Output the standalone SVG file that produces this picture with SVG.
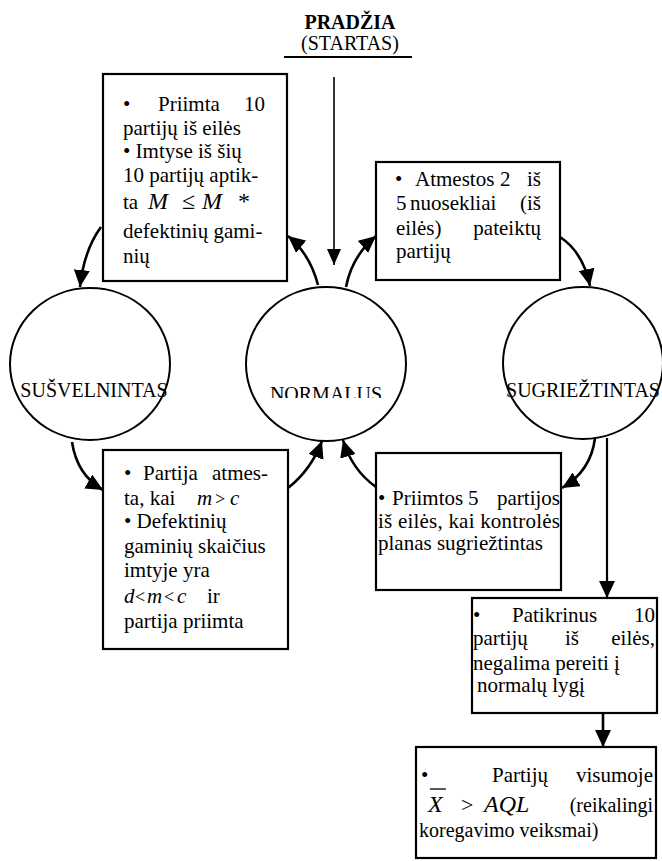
<svg xmlns="http://www.w3.org/2000/svg" width="662" height="861" viewBox="0 0 662 861">
<style>
text{font-family:"Liberation Serif","Times New Roman",serif;fill:#000}
.t{font-size:21px}
.c{font-size:20px}
.m{font-size:24px;font-style:italic}
.mi{font-size:21px;font-style:italic}
.box{fill:#fff;stroke:#000;stroke-width:2.2}
.ell{fill:#fff;stroke:#000;stroke-width:2}
.cv{fill:none;stroke:#000;stroke-width:2.6}
.ln{fill:none;stroke:#000}
</style>
<defs>
<marker id="ah" markerUnits="userSpaceOnUse" markerWidth="18" markerHeight="16" refX="17" refY="8" orient="auto">
<path d="M0,0 L17,8 L0,16 Z" fill="#000"/>
</marker>
<marker id="ahs" markerUnits="userSpaceOnUse" markerWidth="16" markerHeight="14" refX="16" refY="7" orient="auto">
<path d="M0,0 L16,7 L0,14 Z" fill="#000"/>
</marker>
<clipPath id="clipN"><rect x="240" y="370" width="170" height="28"/></clipPath>
</defs>

<g id="start">
<text x="350" y="29" text-anchor="middle" style="font-size:20px;font-weight:bold">PRADŽIA</text>
<text x="350" y="50" text-anchor="middle" style="font-size:20px">(STARTAS)</text>
<line x1="284" y1="57" x2="412" y2="57" stroke="#000" stroke-width="2"/>
</g>

<g id="box1">
<rect class="box" x="103" y="74" width="184" height="207"/>
<text class="t" y="111"><tspan x="123">•</tspan><tspan x="158">Priimta</tspan><tspan x="265" text-anchor="end">10</tspan></text>
<text class="t" x="123" y="135">partijų iš eilės</text>
<text class="t" x="123" y="158">• Imtyse iš šių</text>
<text class="t" x="123" y="182">10 partijų aptik-</text>
<text class="t" y="209"><tspan x="123">ta</tspan><tspan class="m" x="148">M</tspan><tspan x="182" style="font-size:24px">≤</tspan><tspan class="m" x="202">M</tspan><tspan x="238" style="font-size:24px">*</tspan></text>
<text class="t" x="123" y="238">defektinių gami-</text>
<text class="t" x="123" y="263">nių</text>
</g>

<g id="box2">
<rect class="box" x="376" y="162" width="184" height="118"/>
<text class="t" y="186"><tspan x="395">•</tspan><tspan x="415">Atmestos</tspan><tspan x="500">2</tspan><tspan x="541" text-anchor="end">iš</tspan></text>
<text class="t" y="210"><tspan x="396">5</tspan><tspan x="410">nuosekliai</tspan><tspan x="541" text-anchor="end">(iš</tspan></text>
<text class="t" y="235"><tspan x="396">eilės)</tspan><tspan x="541" text-anchor="end">pateiktų</tspan></text>
<text class="t" x="396" y="258">partijų</text>
</g>

<g id="susvelnintas">
<ellipse class="ell" cx="90" cy="364" rx="80" ry="76"/>
<text class="c" x="94" y="397" text-anchor="middle">SUŠVELNINTAS</text>
</g>

<g id="normalus">
<ellipse class="ell" cx="326" cy="364" rx="80" ry="77"/>
<text class="c" x="326" y="401" text-anchor="middle" clip-path="url(#clipN)">NORMALUS</text>
</g>

<g id="sugrieztintas">
<ellipse class="ell" cx="583" cy="363" rx="80" ry="76"/>
<text class="c" x="583" y="397" text-anchor="middle">SUGRIEŽTINTAS</text>
</g>

<g id="box3">
<rect class="box" x="103" y="450" width="185" height="199"/>
<text class="t" y="480"><tspan x="124">•</tspan><tspan x="143">Partija</tspan><tspan x="268" text-anchor="end">atmes-</tspan></text>
<text class="t" y="505"><tspan x="124">ta, kai</tspan><tspan class="mi" x="197">m</tspan><tspan x="215" style="font-size:18px">&gt;</tspan><tspan class="mi" x="230">c</tspan></text>
<text class="t" x="124" y="528">• Defektinių</text>
<text class="t" x="124" y="553">gaminių skaičius</text>
<text class="t" x="124" y="577">imtyje yra</text>
<text class="t" y="603"><tspan class="mi" x="124">d</tspan><tspan x="135" style="font-size:18px">&lt;</tspan><tspan class="mi" x="147">m</tspan><tspan x="164" style="font-size:18px">&lt;</tspan><tspan class="mi" x="177">c</tspan><tspan x="207">ir</tspan></text>
<text class="t" x="124" y="628">partija priimta</text>
</g>

<g id="box4">
<rect class="box" x="376" y="453" width="185" height="137"/>
<text class="t" y="505"><tspan x="378">•</tspan><tspan x="392">Priimtos</tspan><tspan x="468">5</tspan><tspan x="560" text-anchor="end">partijos</tspan></text>
<text class="t" x="378" y="528" textLength="182">iš eilės, kai kontrolės</text>
<text class="t" x="378" y="550">planas sugriežtintas</text>
</g>

<g id="box5">
<rect class="box" x="472" y="598" width="185" height="115"/>
<text class="t" y="622"><tspan x="473">•</tspan><tspan x="512">Patikrinus</tspan><tspan x="655" text-anchor="end">10</tspan></text>
<text class="t" y="645"><tspan x="473">partijų</tspan><tspan x="565">iš</tspan><tspan x="655" text-anchor="end">eilės,</tspan></text>
<text class="t" x="473" y="670">negalima pereiti į</text>
<text class="t" x="477" y="692">normalų lygį</text>
</g>

<g id="box6">
<rect class="box" x="416" y="747" width="240" height="111"/>
<text class="t" y="782"><tspan x="421">•</tspan><tspan x="492">Partijų</tspan><tspan x="653" text-anchor="end">visumoje</tspan></text>
<text class="t" y="812"><tspan class="m" x="428">X</tspan><tspan x="461" style="font-size:22px">&gt;</tspan><tspan class="m" x="484">AQL</tspan><tspan x="653" text-anchor="end" style="font-size:20px">(reikalingi</tspan></text>
<line x1="430" y1="789" x2="446" y2="789" stroke="#000" stroke-width="1.3"/>
<text class="t" x="419" y="837" style="font-size:20px">koregavimo veiksmai)</text>
</g>

<g id="connectors">
<line class="ln" x1="334" y1="77" x2="334" y2="265" stroke-width="1.6" marker-end="url(#ahs)"/>
<path class="cv" d="M318,285 Q310,254 288,236" marker-end="url(#ah)"/>
<path class="cv" d="M346,287 Q352,256 376,236" marker-end="url(#ah)"/>
<path class="cv" d="M101,227 Q84,250 80,287" marker-end="url(#ah)"/>
<path class="cv" d="M560,237 Q583,252 590,286" marker-end="url(#ah)"/>
<path class="cv" d="M72,442 Q77,475 103,490" marker-end="url(#ah)"/>
<path class="cv" d="M288,488 Q311,470 322,441" marker-end="url(#ah)"/>
<path class="cv" d="M376,487 Q352,470 343,440" marker-end="url(#ah)"/>
<path class="cv" d="M595,438 Q591,471 562,488" marker-end="url(#ah)"/>
<line class="ln" x1="607" y1="438" x2="607" y2="598" stroke-width="2.2" marker-end="url(#ah)"/>
<line class="ln" x1="603" y1="713" x2="603" y2="747" stroke-width="2.6" marker-end="url(#ah)"/>
</g>
</svg>
